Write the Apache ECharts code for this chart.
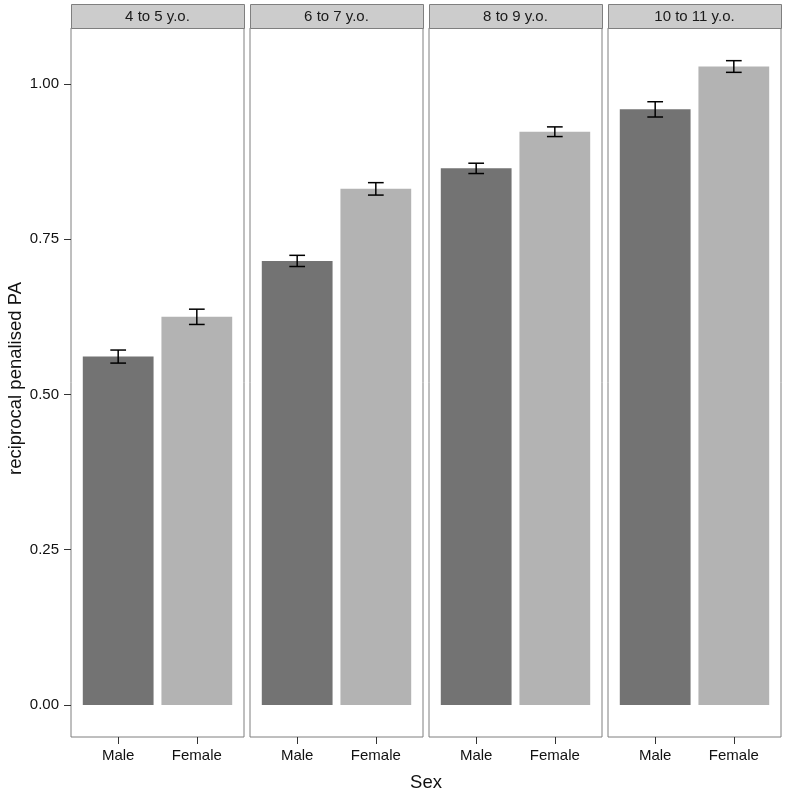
<!DOCTYPE html>
<html>
<head>
<meta charset="utf-8">
<script src="https://cdn.jsdelivr.net/npm/echarts@6/dist/echarts.min.js"></script>
<style>html,body{margin:0;padding:0;background:#fff}#c{width:786px;height:796px}</style>
</head>
<body>
<div id="c"></div>
<script>
const groups = ['4 to 5 y.o.', '6 to 7 y.o.', '8 to 9 y.o.', '10 to 11 y.o.'];
const sexes = ['Male', 'Female'];
const maleMean = [0.561, 0.715, 0.864, 0.959];
const femaleMean = [0.625, 0.831, 0.923, 1.028];
const maleErr = [0.0105, 0.009, 0.0083, 0.0123];
const femaleErr = [0.0123, 0.010, 0.0078, 0.0094];
const yTicks = [0, 0.25, 0.5, 0.75, 1.0];

const colors = ['#737373', '#b3b3b3'];
const FONT = 'Liberation Sans, Arial, sans-serif';
const panelLeft0 = 71, panelStep = 179, panelW = 173, panelTop = 28, panelH = 709;

const grids = [], xAxes = [], yAxes = [], series = [], graphics = [];
groups.forEach((g, i) => {
  const left = panelLeft0 + i * panelStep;
  grids.push({left: left, top: panelTop, width: panelW, height: panelH, show: true,
    borderColor: '#7f7f7f', borderWidth: 1, backgroundColor: '#fff', containLabel: false});
  xAxes.push({gridIndex: i, type: 'value', min: 0.4, max: 2.6, position: 'bottom',
    axisLine: {show: false, onZero: false}, splitLine: {show: false},
    axisTick: {show: true, customValues: [1, 2], length: 7, lineStyle: {color: '#333', width: 1}},
    axisLabel: {show: true, customValues: [1, 2], formatter: v => sexes[Math.round(v) - 1] || '',
      color: '#111', fontSize: 15, fontFamily: FONT, margin: 11}});
  yAxes.push({gridIndex: i, type: 'value', min: -0.0515, max: 1.09,
    axisLine: {show: false, onZero: false}, splitLine: {show: false},
    axisTick: {show: i === 0, customValues: yTicks, length: 7, lineStyle: {color: '#333', width: 1}},
    axisLabel: {show: i === 0, customValues: yTicks, formatter: v => v.toFixed(2),
      color: '#111', fontSize: 15, fontFamily: FONT, margin: 12}});
  const data = [[1, maleMean[i], maleErr[i], 0], [2, femaleMean[i], femaleErr[i], 1]];
  series.push({type: 'custom', xAxisIndex: i, yAxisIndex: i, data: data,
    renderItem: function (params, api) {
      const x = api.value(0), y = api.value(1), e = api.value(2), c = api.value(3);
      const p1 = api.coord([x - 0.45, y]);
      const p2 = api.coord([x + 0.45, 0]);
      const lo = api.coord([x, y - e]);
      const hi = api.coord([x, y + e]);
      const cl = api.coord([x - 0.1, y]);
      const cr = api.coord([x + 0.1, y]);
      const ls = {stroke: '#000', lineWidth: 1.5};
      return {type: 'group', children: [
        {type: 'rect', shape: {x: p1[0], y: p1[1], width: p2[0] - p1[0], height: p2[1] - p1[1]},
          style: {fill: colors[c]}},
        {type: 'line', shape: {x1: lo[0], y1: lo[1], x2: hi[0], y2: hi[1]}, style: ls},
        {type: 'line', shape: {x1: cl[0], y1: lo[1], x2: cr[0], y2: lo[1]}, style: ls},
        {type: 'line', shape: {x1: cl[0], y1: hi[1], x2: cr[0], y2: hi[1]}, style: ls}
      ]};
    }});
  graphics.push({type: 'rect', left: left, top: 4,
    shape: {width: panelW, height: panelTop - 4},
    style: {fill: '#cccccc', stroke: '#7f7f7f', lineWidth: 1}, z: 10});
  graphics.push({type: 'text', x: left + panelW / 2, y: 16.5,
    style: {text: g, fill: '#1a1a1a', font: '15px ' + FONT, textAlign: 'center', textVerticalAlign: 'middle'}, z: 11});
});
graphics.push({type: 'text', x: panelLeft0 + (panelStep * 3 + panelW) / 2, y: 783,
  style: {text: 'Sex', fill: '#111', font: '18.5px ' + FONT, textAlign: 'center', textVerticalAlign: 'middle'}});
graphics.push({type: 'text', x: 16, y: panelTop + panelH / 2 - 4, rotation: Math.PI / 2,
  style: {text: 'reciprocal penalised PA', fill: '#111', font: '18.5px ' + FONT, textAlign: 'center', textVerticalAlign: 'middle'}});

const chart = echarts.init(document.getElementById('c'), null, {renderer: 'canvas'});
chart.setOption({
  backgroundColor: '#fff',
  animation: false,
  grid: grids, xAxis: xAxes, yAxis: yAxes, series: series, graphic: graphics
});
</script>
</body>
</html>
